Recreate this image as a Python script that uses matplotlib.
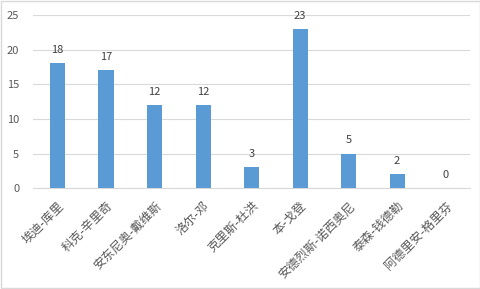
import matplotlib
matplotlib.use("Agg")
import matplotlib.pyplot as plt
from matplotlib.patches import Rectangle

plt.rcParams['font.family'] = ['Noto Sans CJK SC', 'DejaVu Sans']

players = ['埃迪-库里', '科克-辛里奇', '安东尼奥-戴维斯', '洛尔-邓', '克里斯-杜洪',
           '本-戈登', '安德烈斯-诺西奥尼', '泰森-钱德勒', '阿德里安-格里芬']
values = [18, 17, 12, 12, 3, 23, 5, 2, 0]

bar_color = '#5B9BD5'
text_color = '#595959'
grid_color = '#D9D9D9'

fig = plt.figure(figsize=(4.81, 2.89), dpi=100)
ax = fig.add_axes([0.069, 0.349, 0.908, 0.599])

x = range(len(players))
bars = ax.bar(x, values, width=0.31, color=bar_color, zorder=3)

for xi, v in zip(x, values):
    ax.annotate(str(v), (xi, v), xytext=(0, 6), textcoords='offset points',
                ha='center', va='bottom', fontsize=8, color='#404040')

ax.set_xlim(-0.5, len(players) - 0.5)
ax.set_ylim(0, 25)
ax.set_yticks([0, 5, 10, 15, 20, 25])
ax.yaxis.grid(True, color=grid_color, linewidth=0.8, zorder=0)
ax.set_xticks(list(x))
ax.set_xticklabels(players, rotation=45, ha='right', rotation_mode='anchor',
                   fontsize=8.8, color=text_color)
ax.tick_params(axis='x', length=0, pad=8)
ax.tick_params(axis='y', length=0, pad=10, labelsize=8, labelcolor=text_color)
for s in ['top', 'right', 'left']:
    ax.spines[s].set_visible(False)
ax.spines['bottom'].set_color(grid_color)
ax.spines['bottom'].set_linewidth(0.8)

fig.patches.append(Rectangle((0.002, 0.003), 0.995, 0.994, transform=fig.transFigure,
                             fill=False, edgecolor='#D9D9D9', linewidth=1))

fig.savefig('out.png', dpi=100)
